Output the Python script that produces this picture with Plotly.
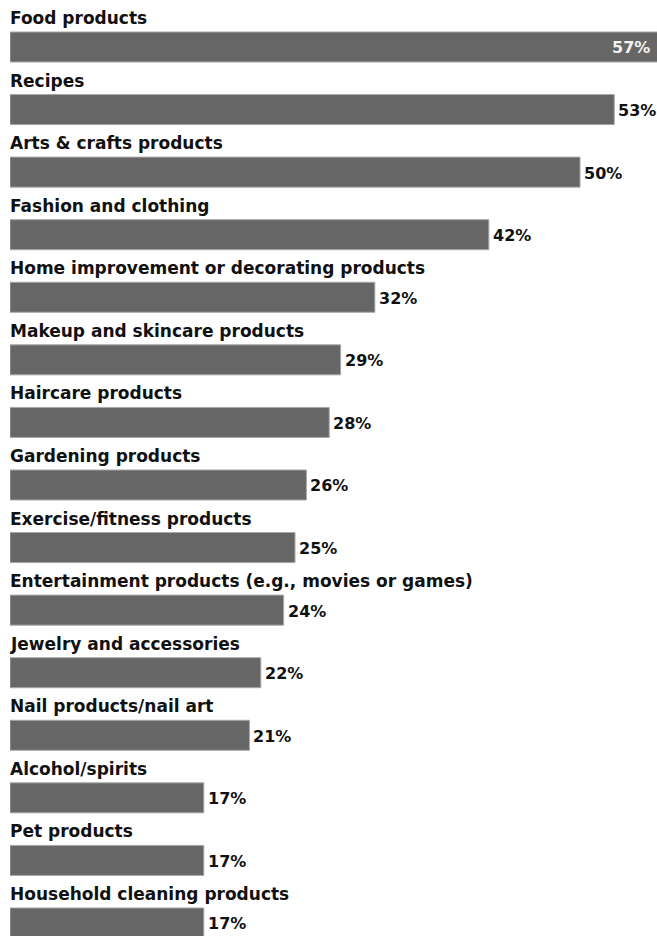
import plotly.graph_objects as go

categories = [
    "Food products", "Recipes", "Arts & crafts products", "Fashion and clothing",
    "Home improvement or decorating products", "Makeup and skincare products",
    "Haircare products", "Gardening products", "Exercise/fitness products",
    "Entertainment products (e.g., movies or games)", "Jewelry and accessories",
    "Nail products/nail art", "Alcohol/spirits", "Pet products",
    "Household cleaning products",
]
values = [57, 53, 50, 42, 32, 29, 28, 26, 25, 24, 22, 21, 17, 17, 17]

FONT = "DejaVu Sans"
pos = list(range(len(categories)))
XMAX = 56.75

fig = go.Figure(go.Bar(
    x=values, y=pos, orientation="h", width=0.48,
    marker=dict(color="#666666", line=dict(color="#a8a8a8", width=1)),
    hoverinfo="skip",
))

ann = []
for i, (c, v) in enumerate(zip(categories, values)):
    ann.append(dict(x=0, y=i, xref="x", yref="y", text="<b>%s</b>" % c,
                    showarrow=False, xanchor="left", yanchor="middle",
                    xshift=-2, yshift=29,
                    font=dict(family=FONT, size=17, color="#111111")))
    if v >= XMAX:
        # label sits inside the bar, which runs past the right edge
        ann.append(dict(x=XMAX, y=i, xref="x", yref="y", text="<b>%d%%</b>" % v,
                        showarrow=False, xanchor="right", yanchor="middle",
                        xshift=-5, yshift=-1,
                        font=dict(family=FONT, size=16, color="#f2f2f2")))
    else:
        ann.append(dict(x=v, y=i, xref="x", yref="y", text="<b>%d%%</b>" % v,
                        showarrow=False, xanchor="left", yanchor="middle",
                        xshift=2, yshift=-1,
                        font=dict(family=FONT, size=16, color="#111111")))

fig.update_layout(
    width=657, height=936,
    margin=dict(l=10, r=0, t=0, b=0),
    paper_bgcolor="white", plot_bgcolor="white",
    showlegend=False,
    xaxis=dict(range=[0, XMAX], visible=False, fixedrange=True),
    yaxis=dict(range=[14.208, -0.751], visible=False, fixedrange=True),
    annotations=ann,
)

fig.write_html("out.html", config={"displayModeBar": False})
